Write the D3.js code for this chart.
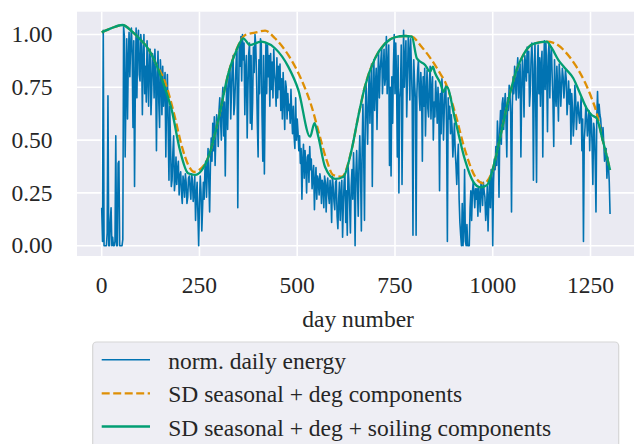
<!DOCTYPE html>
<html>
<head>
<meta charset="utf-8">
<script src="https://cdn.jsdelivr.net/npm/d3@7"></script>
<style>
  body { margin: 0; background: #fff; }
  svg { display: block; }
</style>
</head>
<body>
<svg id="chart" width="634" height="444"></svg>
<script>
// --- data ---
// normalised daily energy, one value every 2 days (day 0 .. 1300)
const dayStep = 2;
const dailyEnergy = [
  // day 0 - 54
  0.18,0.02,1.02,0.00,0.00,0.00,0.00,0.06,0.71,0.00,0.00,0.12,0.18,0.00,0.04,0.00,0.00,0.02,0.52,0.00,
  0.00,0.39,0.40,0.00,0.00,0.00,0.00,0.03,
  // day 56 - 174
  1.04,0.99,0.42,0.72,0.98,0.60,0.88,1.01,0.80,0.95,1.03,0.90,0.56,0.97,0.28,0.75,1.03,0.70,0.98,1.02,
  0.81,0.78,1.00,0.94,0.62,0.89,1.00,0.72,0.85,0.68,0.97,0.80,0.66,0.92,0.93,0.62,0.74,0.91,0.88,0.70,
  0.93,0.82,0.45,0.78,0.92,0.68,0.56,0.88,0.80,0.62,0.85,0.66,0.75,0.82,0.42,0.70,0.81,0.55,0.31,0.66,
  // day 176 - 282
  0.49,0.28,0.31,0.44,0.52,0.26,0.31,0.42,0.29,0.36,0.40,0.24,0.33,0.35,0.25,0.20,0.33,0.30,0.23,0.34,
  0.30,0.20,0.23,0.32,0.33,0.27,0.22,0.34,0.31,0.21,0.25,0.33,0.12,0.24,0.30,0.15,0.00,0.20,0.33,0.25,
  0.07,0.18,0.30,0.22,0.36,0.40,0.23,0.35,0.46,0.30,0.16,0.38,0.51,0.40,
  // day 284 - 406
  0.58,0.45,0.61,0.38,0.52,0.62,0.58,0.47,0.64,0.70,0.59,0.50,0.69,0.75,0.52,0.68,0.33,0.62,0.78,0.55,
  0.72,0.82,0.85,0.60,0.74,0.86,0.90,0.62,0.67,0.78,0.88,0.92,0.18,0.70,0.96,0.85,0.99,0.78,1.00,0.88,
  0.96,0.62,0.83,0.90,0.51,0.74,0.91,0.96,0.58,0.90,0.55,0.68,0.94,0.82,1.00,0.95,0.80,0.58,0.42,0.88,
  0.72,0.98,
  // day 408 - 626
  0.96,0.62,0.40,0.90,0.34,0.70,0.96,0.72,0.95,0.80,0.90,0.66,0.91,0.74,0.87,0.70,0.93,0.82,0.77,0.66,
  0.89,0.70,0.85,0.74,0.86,0.64,0.79,0.60,0.82,0.70,0.55,0.78,0.75,0.60,0.72,0.64,0.67,0.58,0.74,0.62,
  0.53,0.66,0.52,0.46,0.70,0.50,0.60,0.54,0.45,0.52,0.39,0.46,0.22,0.40,0.48,0.32,0.45,0.38,0.25,0.42,
  0.43,0.30,0.47,0.36,0.41,0.27,0.33,0.38,0.17,0.30,0.37,0.22,0.33,0.31,0.24,0.34,0.31,0.20,0.31,0.29,
  0.18,0.33,0.30,0.16,0.28,0.32,0.24,0.20,0.31,0.26,0.11,0.33,0.28,0.21,0.17,0.30,0.31,0.14,0.08,0.22,
  0.30,0.12,0.24,0.31,0.04,0.20,0.30,0.34,0.11,0.26,
  // day 628 - 870
  0.05,0.38,0.31,0.20,0.06,0.28,0.36,0.22,0.44,0.30,0.00,0.34,0.45,0.30,0.14,0.40,0.52,0.35,0.07,0.46,
  0.67,0.42,0.12,0.60,0.77,0.62,0.48,0.70,0.81,0.58,0.74,0.86,0.28,0.70,0.88,0.64,0.76,0.84,0.55,0.78,
  0.91,0.70,0.83,0.88,0.94,0.72,0.82,0.93,0.76,0.80,0.99,0.72,0.85,0.95,0.38,0.75,0.33,0.80,0.58,0.85,
  1.00,0.72,0.96,0.80,0.42,0.90,0.25,0.70,0.74,0.95,0.29,0.68,1.02,0.75,0.88,0.97,0.61,0.80,0.99,0.92,
  0.69,0.98,0.85,0.70,0.05,0.88,0.78,0.70,0.05,0.72,0.83,0.88,0.71,0.64,0.82,0.74,0.40,0.80,0.66,0.84,
  0.52,0.72,0.83,0.65,0.61,0.78,0.85,0.60,0.74,0.80,0.50,0.68,0.61,0.78,0.70,0.58,0.75,0.66,0.26,0.72,
  0.53,0.79,
  // day 872 - 1102
  0.72,0.50,0.64,0.74,0.76,0.55,0.02,0.70,0.60,0.66,0.53,0.62,0.56,0.42,0.50,0.58,0.45,0.38,0.29,0.40,
  0.48,0.22,0.11,0.05,0.00,0.20,0.00,0.08,0.36,0.02,0.00,0.10,0.00,0.00,0.00,0.18,0.26,0.12,0.25,0.30,
  0.25,0.18,0.27,0.22,0.27,0.14,0.28,0.24,0.16,0.30,0.27,0.19,0.30,0.26,0.23,0.12,0.17,0.28,0.07,0.22,
  0.31,0.18,0.36,0.34,0.00,0.30,0.41,0.36,0.47,0.38,0.59,0.50,0.23,0.55,0.64,0.48,0.67,0.70,0.55,0.66,
  0.72,0.58,0.42,0.70,0.64,0.76,0.72,0.62,0.16,0.66,0.80,0.72,0.85,0.78,0.69,0.82,0.89,0.70,0.80,0.86,
  0.42,0.74,0.88,0.80,0.61,0.90,0.86,0.78,0.94,0.82,0.92,0.66,0.73,0.88,0.96,0.86,
  // day 1104 - 1300
  0.31,0.78,0.96,0.64,0.30,0.84,0.95,0.72,0.89,0.66,0.86,0.92,0.42,0.80,0.97,0.74,0.96,0.82,0.54,0.90,
  0.96,0.70,0.89,0.94,0.80,0.68,0.47,0.88,0.72,0.66,0.85,0.74,0.59,0.86,0.80,0.66,0.75,0.84,0.80,0.70,
  0.76,0.83,0.79,0.62,0.69,0.78,0.67,0.74,0.48,0.72,0.65,0.52,0.59,0.76,0.70,0.55,0.64,0.68,0.62,0.58,
  0.64,0.70,0.45,0.60,0.02,0.50,0.56,0.66,0.62,0.52,0.58,0.64,0.45,0.62,0.60,0.48,0.29,0.58,0.55,0.40,
  0.16,0.60,0.73,0.58,0.67,0.62,0.60,0.54,0.50,0.56,0.48,0.40,0.43,0.46,0.32,0.42,0.38,0.30,0.15
];

// SD seasonal + deg components
const degDays = [0, 25, 53, 80, 100, 120, 138, 162, 185, 205, 222, 236, 250, 273, 298, 324, 345, 367,
  392, 418, 443, 477, 511, 537, 558, 575, 592, 614, 639, 656, 673, 699, 725, 750, 776, 793, 818, 844,
  868, 878, 904, 929, 955, 976, 997, 1006, 1023, 1040, 1061, 1078, 1098, 1108, 1138, 1159, 1185, 1211,
  1237, 1253, 1266, 1279, 1292, 1300];
const degValues = [1.010, 1.030, 1.045, 1.010, 0.974, 0.930, 0.864, 0.775, 0.625, 0.470, 0.380, 0.350,
  0.360, 0.421, 0.595, 0.816, 0.930, 0.998, 1.009, 1.018, 0.982, 0.903, 0.785, 0.658, 0.516, 0.406,
  0.335, 0.327, 0.453, 0.611, 0.753, 0.887, 0.958, 0.987, 0.993, 0.990, 0.942, 0.879, 0.808, 0.776,
  0.627, 0.453, 0.327, 0.295, 0.343, 0.406, 0.548, 0.690, 0.832, 0.903, 0.950, 0.958, 0.966, 0.958,
  0.919, 0.856, 0.769, 0.698, 0.627, 0.516, 0.421, 0.358];

// SD seasonal + deg + soiling components
const soilDays = [0, 25, 53, 80, 100, 120, 138, 159, 179, 200, 221, 239, 256, 273, 298, 324, 345, 362,
  379, 407, 418, 443, 477, 503, 533, 544, 554, 571, 597, 618, 639, 656, 673, 699, 725, 750, 776, 793,
  806, 827, 840, 847, 852, 866, 874, 882, 904, 929, 950, 968, 985, 1006, 1023, 1040, 1061, 1078, 1098,
  1108, 1138, 1151, 1168, 1185, 1206, 1223, 1240, 1253, 1266, 1279, 1292, 1300];
const soilValues = [1.010, 1.030, 1.045, 1.010, 0.974, 0.930, 0.864, 0.761, 0.643, 0.453, 0.343, 0.335,
  0.358, 0.421, 0.595, 0.816, 0.927, 0.982, 0.950, 0.966, 0.963, 0.935, 0.848, 0.737, 0.516, 0.580,
  0.516, 0.374, 0.316, 0.327, 0.453, 0.611, 0.753, 0.887, 0.958, 0.987, 0.993, 0.990, 0.887, 0.856,
  0.824, 0.848, 0.820, 0.770, 0.729, 0.753, 0.595, 0.406, 0.303, 0.276, 0.287, 0.406, 0.548, 0.690,
  0.832, 0.903, 0.950, 0.958, 0.966, 0.935, 0.879, 0.840, 0.793, 0.722, 0.651, 0.619, 0.603, 0.516,
  0.421, 0.358];

const xTicks = [0, 250, 500, 750, 1000, 1250];
const yTicks = [0, 0.25, 0.5, 0.75, 1.0];
const seriesNames = ["norm. daily energy", "SD seasonal + deg components", "SD seasonal + deg + soiling components"];
const colors = ["#0173B2", "#DE8F05", "#029E73"];

// --- layout ---
const font = "'Liberation Serif', 'DejaVu Serif', serif";
const fontSize = 23.5;
const ink = "#262626";
const svg = d3.select("#chart");
const x = d3.scaleLinear().domain([0, 1250]).range([101.7, 590.5]);
const y = d3.scaleLinear().domain([0, 1]).range([245.7, 34.5]);
const plot = { left: 77, top: 11.7, right: 640, bottom: 256 };

svg.append("rect")
  .attr("x", plot.left).attr("y", plot.top)
  .attr("width", plot.right - plot.left).attr("height", plot.bottom - plot.top)
  .attr("fill", "#EAEAF2");

// grid
svg.append("g").selectAll("line").data(xTicks).join("line")
  .attr("x1", d => x(d)).attr("x2", d => x(d))
  .attr("y1", plot.top).attr("y2", plot.bottom)
  .attr("stroke", "#fff").attr("stroke-width", 1.6);
svg.append("g").selectAll("line").data(yTicks).join("line")
  .attr("x1", plot.left).attr("x2", plot.right)
  .attr("y1", d => y(d)).attr("y2", d => y(d))
  .attr("stroke", "#fff").attr("stroke-width", 1.6);

// tick labels
svg.append("g").selectAll("text").data(xTicks).join("text")
  .attr("x", d => x(d)).attr("y", 293)
  .attr("text-anchor", "middle")
  .attr("font-family", font).attr("font-size", fontSize).attr("fill", ink)
  .text(d => d);
svg.append("g").selectAll("text").data(yTicks).join("text")
  .attr("x", 52.5).attr("y", d => y(d)).attr("dy", "0.33em")
  .attr("text-anchor", "end")
  .attr("font-family", font).attr("font-size", fontSize).attr("fill", ink)
  .text(d => d3.format(".2f")(d));

svg.append("text")
  .attr("x", (x(0) + x(1250)) / 2 + 12).attr("y", 327)
  .attr("text-anchor", "middle")
  .attr("font-family", font).attr("font-size", fontSize).attr("fill", ink)
  .text("day number");

// series
const energyPts = dailyEnergy.map((v, i) => [i * dayStep, v]);
const degPts = degDays.map((d, i) => [d, degValues[i]]);
const soilPts = soilDays.map((d, i) => [d, soilValues[i]]);

const rawLine = d3.line().x(d => x(d[0])).y(d => y(d[1]));
const smoothLine = d3.line().x(d => x(d[0])).y(d => y(d[1])).curve(d3.curveMonotoneX);

svg.append("path").datum(energyPts)
  .attr("d", rawLine).attr("fill", "none")
  .attr("stroke", colors[0]).attr("stroke-width", 1.6).attr("stroke-linejoin", "round");
svg.append("path").datum(degPts)
  .attr("d", smoothLine).attr("fill", "none")
  .attr("stroke", colors[1]).attr("stroke-width", 2.3).attr("stroke-dasharray", "8,3.5");
svg.append("path").datum(soilPts)
  .attr("d", smoothLine).attr("fill", "none")
  .attr("stroke", colors[2]).attr("stroke-width", 2.3);

// legend
const legend = svg.append("g");
legend.append("rect")
  .attr("x", 92.7).attr("y", 342).attr("width", 526).attr("height", 130)
  .attr("rx", 4).attr("fill", "#EEEEF4").attr("stroke", "#D6D6D6").attr("stroke-width", 1.2);
const rowY = [359.7, 393.3, 426.5];
seriesNames.forEach((name, i) => {
  legend.append("line")
    .attr("x1", 101.7).attr("x2", 150).attr("y1", rowY[i]).attr("y2", rowY[i])
    .attr("stroke", colors[i]).attr("stroke-width", i === 0 ? 1.6 : 2.3)
    .attr("stroke-dasharray", i === 1 ? "8,3.5" : null);
  legend.append("text")
    .attr("x", 168.3).attr("y", rowY[i] + 9)
    .attr("font-family", font).attr("font-size", fontSize).attr("fill", ink)
    .text(name);
});
</script>
</body>
</html>
